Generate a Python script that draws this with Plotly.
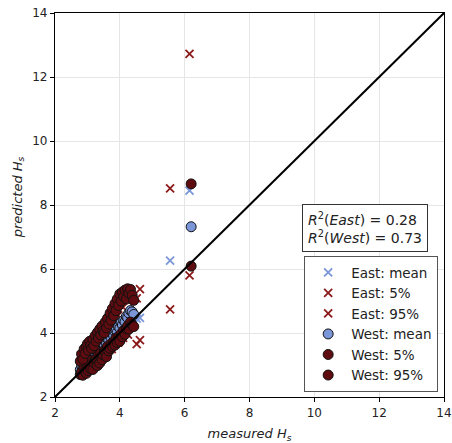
import plotly.graph_objects as go

# ---- data ----
west_measured = [2.78, 2.82, 2.86, 2.90, 2.93, 2.97, 3.00, 3.03, 3.07, 3.10, 3.13, 3.17,
                 3.20, 3.24, 3.27, 3.31, 3.34, 3.38, 3.41, 3.45, 3.48, 3.52, 3.55, 3.59,
                 3.62, 3.66, 3.70, 3.73, 3.77, 3.81, 3.85, 3.88, 3.92, 3.96, 4.00, 4.04,
                 4.08, 4.12, 4.16, 4.20, 4.24, 4.28, 4.33, 4.38, 4.43, 6.20]
west_mean = [2.85, 2.98, 2.90, 3.05, 3.12, 3.02, 3.18, 3.10, 3.25, 3.22, 3.30, 3.20,
             3.38, 3.32, 3.45, 3.40, 3.50, 3.46, 3.60, 3.52, 3.66, 3.62, 3.75, 3.68,
             3.82, 3.78, 3.90, 3.85, 3.98, 3.92, 4.05, 4.10, 4.02, 4.20, 4.15, 4.32,
             4.25, 4.40, 4.35, 4.52, 4.48, 4.62, 4.70, 4.66, 4.58, 7.32]
west_p5 = [2.70, 2.78, 2.68, 2.92, 2.80, 2.74, 3.02, 2.82, 3.06, 2.88, 3.14, 2.86,
           3.08, 3.16, 3.20, 2.98, 3.34, 3.06, 3.38, 3.16, 3.32, 3.46, 3.42, 3.26,
           3.58, 3.44, 3.52, 3.66, 3.58, 3.72, 3.62, 3.84, 3.70, 3.88, 3.74, 3.98,
           3.88, 4.08, 3.96, 4.14, 4.22, 4.12, 4.34, 4.26, 4.20, 6.09]
west_p95 = [3.12, 3.34, 3.18, 3.50, 3.36, 3.58, 3.66, 3.46, 3.74, 3.62, 3.52, 3.80,
            3.60, 3.92, 3.74, 4.02, 3.84, 4.12, 3.94, 4.22, 4.06, 4.00, 4.34, 4.16,
            4.46, 4.28, 4.62, 4.40, 4.76, 4.54, 4.92, 4.70, 5.06, 4.86, 5.22, 5.00,
            5.28, 5.14, 5.34, 5.06, 5.38, 5.24, 5.36, 5.18, 5.02, 8.66]

east_measured = [2.80, 2.85, 3.00, 3.15, 3.30, 3.45, 3.60, 3.75, 3.95, 4.10, 4.25,
                 4.52, 4.62, 5.55, 6.15]
east_mean = [3.00, 2.95, 3.15, 3.25, 3.40, 3.55, 3.75, 3.90, 4.10, 4.30, 4.40,
             4.45, 4.47, 6.26, 8.45]
east_p5 = [2.75, 2.80, 2.90, 3.00, 3.10, 3.25, 3.40, 3.50, 3.70, 3.85, 3.95,
           3.65, 3.78, 4.74, 5.80]
east_p95 = [3.30, 3.20, 3.35, 3.55, 3.84, 3.90, 4.30, 4.25, 4.55, 4.80, 5.00,
            5.08, 5.37, 8.52, 12.72]

r2_east = 0.28
r2_west = 0.73
axis_range = [2, 14]
tick_vals = [2, 4, 6, 8, 10, 12, 14]

# ---- styling ----
c_light = "#7b96d8"
c_red = "#8b1a1a"
c_dark = "#5e0c10"

fig = go.Figure()

def xtrace(x, y, name, color):
    return go.Scatter(x=x, y=y, mode="markers", name=name,
                      marker=dict(symbol="x-thin", size=8,
                                  line=dict(width=1.8, color=color), color=color))

def otrace(x, y, name, color):
    return go.Scatter(x=x, y=y, mode="markers", name=name,
                      marker=dict(symbol="circle", size=10, color=color,
                                  line=dict(width=1, color="#111111")))

fig.add_trace(xtrace(east_measured, east_mean, "East: mean", c_light))
fig.add_trace(xtrace(east_measured, east_p5, "East: 5%", c_red))
fig.add_trace(xtrace(east_measured, east_p95, "East: 95%", c_red))
fig.add_trace(otrace(west_measured, west_mean, "West: mean", c_light))
fig.add_trace(otrace(west_measured, west_p5, "West: 5%", c_dark))
fig.add_trace(otrace(west_measured, west_p95, "West: 95%", c_dark))

fig.add_trace(go.Scatter(x=axis_range, y=axis_range, mode="lines",
                         line=dict(color="black", width=2), showlegend=False,
                         hoverinfo="skip"))

axis_common = dict(range=axis_range, tickvals=tick_vals, showgrid=True,
                   gridcolor="#e6e6e6", gridwidth=1, showline=True,
                   linecolor="black", linewidth=1.2, mirror=True,
                   ticks="outside", ticklen=4, tickcolor="black",
                   tickfont=dict(size=12, color="#222222", family="DejaVu Sans"),
                   zeroline=False, automargin=False, ticklabeloverflow="allow")

fig.update_layout(
    width=452, height=443,
    margin=dict(l=55, r=8, t=13, b=46),
    paper_bgcolor="white", plot_bgcolor="white",
    font=dict(family="DejaVu Sans", size=12, color="#222222"),
    xaxis=dict(**axis_common,
               title=dict(text="<i>measured H<sub>s</sub></i>",
                          font=dict(size=13))),
    yaxis=dict(**axis_common),
    legend=dict(x=0.985, y=0.013, xanchor="right", yanchor="bottom",
                bgcolor="white", bordercolor="#555555", borderwidth=1,
                font=dict(size=13.5, color="#222222"), tracegroupgap=0,
                itemwidth=36),
    showlegend=True,
)

fig.add_annotation(
    xref="paper", yref="paper", x=0, y=0.52, xshift=-37, xanchor="center",
    yanchor="middle", textangle=-90, showarrow=False,
    text="<i>predicted H<sub>s</sub></i>", font=dict(size=13, color="#222222"))

fig.add_annotation(
    xref="paper", yref="paper", x=0.958, y=0.503, xanchor="right", yanchor="top",
    text=(f"<i>R</i><sup>2</sup>(<i>East</i>) = {r2_east:.2f}<br>"
          f"<i>R</i><sup>2</sup>(<i>West</i>) = {r2_west:.2f}"),
    showarrow=False, align="left", bgcolor="white", bordercolor="#333333",
    borderwidth=1, borderpad=5, font=dict(size=14, color="#222222"))

fig.write_html(
    "out.html",
    config={"displayModeBar": False},
    post_script="document.body.style.margin='0px';"
                "document.body.style.overflow='hidden';")
